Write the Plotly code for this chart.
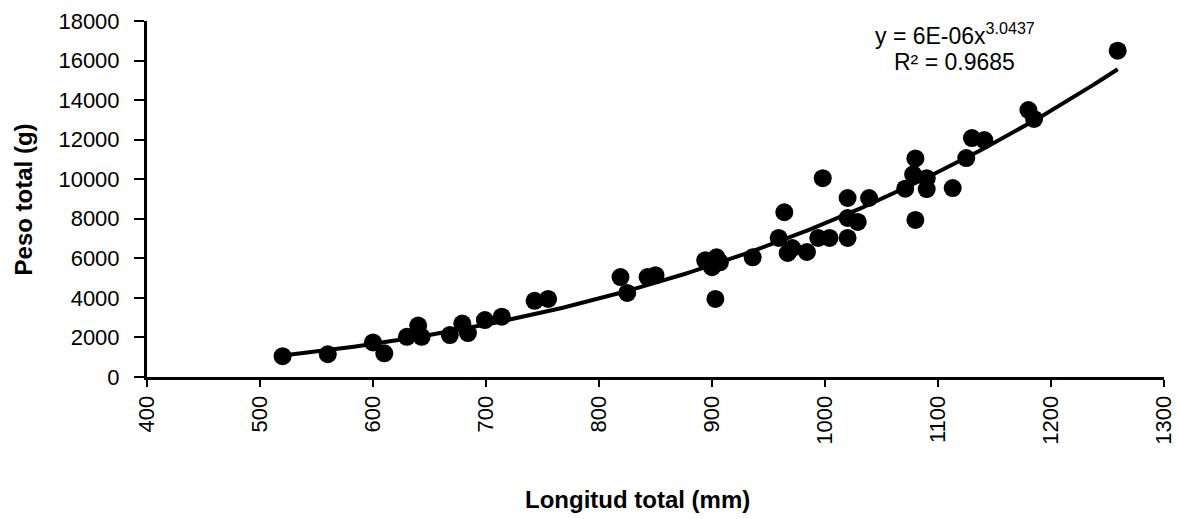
import numpy as np
import plotly.graph_objects as go

# Total length (mm) and total weight (g) per specimen
longitud_mm = [520, 560, 600, 610, 630, 640, 643, 668, 679, 684, 699, 714,
               743, 755, 819, 825, 843, 850, 894, 900, 904, 903, 907, 936,
               959, 964, 967, 971, 984, 994, 998, 1004, 1020, 1020, 1020, 1029,
               1039, 1071, 1078, 1080, 1080, 1090, 1090, 1113, 1125, 1130, 1141,
               1180, 1185, 1259]
peso_g = [1050, 1150, 1750, 1200, 2030, 2600, 2030, 2120, 2700, 2220, 2880, 3050,
          3850, 3950, 5050, 4250, 5050, 5150, 5900, 5550, 6050, 3950, 5800, 6050,
          7030, 8330, 6270, 6520, 6320, 7030, 10050, 7030, 9050, 8040, 7030, 7840,
          9050, 9520, 10250, 11050, 7940, 10050, 9500, 9550, 11070, 12080, 11980,
          13500, 13050, 16500]

# Tick values
x_ticks = [400, 500, 600, 700, 800, 900, 1000, 1100, 1200, 1300]
y_ticks = [0, 2000, 4000, 6000, 8000, 10000, 12000, 14000, 16000, 18000]

eq_text = "y = 6E-06x<sup>3.0437</sup>"
r2_text = "R² = 0.9685"

# Power-law fit (least squares in log space)
lx = np.log(np.array(longitud_mm, dtype=float))
ly = np.log(np.array(peso_g, dtype=float))
b, ln_a = np.polyfit(lx, ly, 1)
x_fit = np.linspace(min(longitud_mm), max(longitud_mm), 200)
y_fit = np.exp(ln_a) * x_fit ** b

font_family = "Liberation Sans, Arial, sans-serif"
y_range = [0, 18000]

fig = go.Figure()
fig.add_trace(go.Scatter(
    x=longitud_mm, y=peso_g, mode="markers",
    marker=dict(size=18, color="black", line=dict(width=0)),
    showlegend=False, cliponaxis=False,
))
fig.add_trace(go.Scatter(
    x=x_fit, y=y_fit, mode="lines",
    line=dict(color="black", width=4),
    showlegend=False,
))

fig.add_annotation(x=1115, y=17350, xref="x", yref="y", text=eq_text,
                   showarrow=False, font=dict(size=23, color="black", family=font_family))
fig.add_annotation(x=1115, y=15950, xref="x", yref="y", text=r2_text,
                   showarrow=False, font=dict(size=23, color="black", family=font_family))

# axis titles
fig.add_annotation(x=0.482, y=-0.345, xref="paper", yref="paper",
                   text="<b>Longitud total (mm)</b>", showarrow=False,
                   xanchor="center", yanchor="middle",
                   font=dict(size=24, color="black", family=font_family))
fig.add_annotation(x=-0.1215, y=0.5, xref="paper", yref="paper",
                   text="<b>Peso total (g)</b>", showarrow=False, textangle=-90,
                   xanchor="center", yanchor="middle",
                   font=dict(size=24, color="black", family=font_family))

fig.update_layout(
    width=1178, height=519,
    margin=dict(l=147, r=14, t=21, b=142),
    plot_bgcolor="white", paper_bgcolor="white",
    font=dict(family=font_family, color="black", size=22),
    xaxis=dict(
        range=[400, 1300], tickvals=x_ticks, ticktext=[str(v) for v in x_ticks],
        tickangle=-90, ticks="outside", ticklen=7, tickwidth=2, tickcolor="black",
        showline=True, linewidth=3, linecolor="black", showgrid=False, zeroline=False,
        tickfont=dict(size=22), automargin=False,
    ),
    # labelled y axis: long transparent ticks leave a gap before the labels
    yaxis=dict(
        range=y_range, tickvals=y_ticks, ticktext=[str(v) for v in y_ticks],
        ticks="outside", ticklen=22, tickwidth=2, tickcolor="rgba(0,0,0,0)",
        showline=False, showgrid=False, zeroline=False,
        tickfont=dict(size=22), automargin=False,
    ),
    # visible y axis line with short tick marks
    yaxis2=dict(
        range=y_range, tickvals=y_ticks, overlaying="y", side="left",
        ticks="outside", ticklen=10, tickwidth=2, tickcolor="black",
        showticklabels=False, showline=True, linewidth=3, linecolor="black",
        showgrid=False, zeroline=False, automargin=False,
    ),
)
# attach an empty trace so the overlay axis is drawn
fig.add_trace(go.Scatter(x=[None], y=[None], yaxis="y2", showlegend=False,
                         hoverinfo="skip"))

fig.write_html("out.html")
